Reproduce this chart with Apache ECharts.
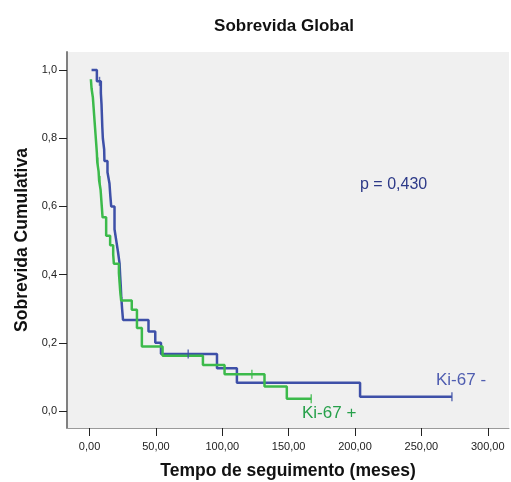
<!DOCTYPE html>
<html>
<head>
<meta charset="utf-8">
<script src="https://cdn.jsdelivr.net/npm/echarts@6/dist/echarts.min.js"></script>
<style>html,body{margin:0;padding:0;background:#fff;}#c{width:511px;height:482px;}</style>
</head>
<body>
<div id="c"></div>
<script>
// Ki-67 negative group (blue)
const blueTimes = [1.5, 5.5, 8.5, 9, 9.3, 9.6, 10, 11, 11.2, 13.5, 15, 15.6, 16.3, 18.8, 20.1, 21.4, 22.6, 23, 23.5, 23.9, 24.5, 25.2, 44.4, 49.5, 53.8, 96, 111, 203.8, 273];
const blueSurv  = [1.0, 0.967, 0.933, 0.9, 0.867, 0.833, 0.8, 0.767, 0.733, 0.7, 0.667, 0.633, 0.6, 0.533, 0.5, 0.467, 0.433, 0.4, 0.367, 0.333, 0.3, 0.267, 0.233, 0.2, 0.167, 0.125, 0.083, 0.042, 0.042];
const blueCensorTimes = [7.5, 74.3, 273];
const blueCensorSurv  = [0.967, 0.167, 0.042];

// Ki-67 positive group (green)
const greenTimes = [1, 1.5, 2.5, 3, 3.5, 4, 4.5, 5, 5.5, 5.8, 6.8, 7.2, 8.3, 8.8, 9.3, 9.8, 12.5, 15.5, 17.8, 18.3, 22.1, 22.6, 23.1, 23.8, 31.8, 35.7, 39.4, 55, 85.4, 101.7, 131.8, 148.6, 167];
const greenSurv  = [0.973, 0.946, 0.919, 0.892, 0.865, 0.838, 0.811, 0.784, 0.757, 0.730, 0.703, 0.676, 0.649, 0.622, 0.595, 0.568, 0.514, 0.486, 0.459, 0.432, 0.405, 0.378, 0.351, 0.324, 0.297, 0.243, 0.189, 0.162, 0.135, 0.108, 0.072, 0.036, 0.036];
const greenCensorTimes = [6.2, 7.8, 122.3, 167];
const greenCensorSurv  = [0.730, 0.676, 0.108, 0.036];

const xTicks = [0, 50, 100, 150, 200, 250, 300];
const yTicks = [0, 0.2, 0.4, 0.6, 0.8, 1.0];

const BLUE = '#3e50a8';
const GREEN = '#3cba4b';
const zip = (a, b) => a.map((v, i) => [v, b[i]]);

const chart = echarts.init(document.getElementById('c'), null, {renderer: 'canvas'});
const FONT = '"Liberation Sans", Arial, sans-serif';
chart.setOption({
  animation: false,
  backgroundColor: '#ffffff',
  textStyle: {fontFamily: FONT},
  title: {
    text: 'Sobrevida Global', left: 279, top: 13, textAlign: 'center',
    textStyle: {fontSize: 17, fontWeight: 'bold', color: '#111', fontFamily: FONT}
  },
  grid: {left: 67, top: 52, right: 2, bottom: 54, show: true, backgroundColor: '#f0f0f0', borderWidth: 0,
         outerBoundsMode: 'none', containLabel: false},
  xAxis: {
    type: 'value', min: -17, max: 316,
    name: 'Tempo de seguimento (meses)', nameLocation: 'middle', nameGap: 34,
    nameTextStyle: {fontSize: 17.5, fontWeight: 'bold', color: '#111', fontFamily: FONT},
    axisLine: {show: true, onZero: false, lineStyle: {color: '#9a9a9a', width: 1}},
    axisTick: {show: true, customValues: xTicks, length: 8, lineStyle: {color: '#222', width: 1}},
    axisLabel: {customValues: xTicks, margin: 13, fontSize: 11, color: '#222', fontFamily: FONT,
      formatter: v => v.toFixed(2).replace('.', ',')},
    splitLine: {show: false}
  },
  yAxis: {
    type: 'value', min: -0.05, max: 1.053,
    name: 'Sobrevida Cumulativa', nameLocation: 'middle', nameGap: 27, nameRotate: 90,
    nameTextStyle: {fontSize: 17.5, fontWeight: 'bold', color: '#111', fontFamily: FONT},
    axisLine: {show: true, onZero: false, lineStyle: {color: '#808080', width: 2}},
    axisTick: {show: true, customValues: yTicks, length: 8, lineStyle: {color: '#222', width: 1}},
    axisLabel: {customValues: yTicks, margin: 10, fontSize: 11, color: '#222', fontFamily: FONT,
      formatter: v => v.toFixed(1).replace('.', ',')},
    splitLine: {show: false}
  },
  graphic: [
    {type: 'text', left: 360, top: 177, style: {text: 'p = 0,430', fontSize: 16, fill: '#2d3a88', fontFamily: FONT}},
    {type: 'text', left: 436, top: 372, style: {text: 'Ki-67 -', fontSize: 17, fill: '#4f5db0', fontFamily: FONT}},
    {type: 'text', left: 302, top: 405, style: {text: 'Ki-67 +', fontSize: 17, fill: '#26a04a', fontFamily: FONT}}
  ],
  series: [
    {type: 'line', step: 'end', data: zip(greenTimes, greenSurv), showSymbol: false, symbol: 'none',
     lineStyle: {color: GREEN, width: 2.5}, z: 3},
    {type: 'line', step: 'end', data: zip(blueTimes, blueSurv), showSymbol: false, symbol: 'none',
     lineStyle: {color: BLUE, width: 2.5}, z: 2},
    {type: 'scatter', data: zip(greenCensorTimes, greenCensorSurv), symbol: 'rect', symbolSize: [1.5, 9],
     itemStyle: {color: GREEN}, z: 4},
    {type: 'scatter', data: zip(blueCensorTimes, blueCensorSurv), symbol: 'rect', symbolSize: [1.5, 9],
     itemStyle: {color: BLUE}, z: 4}
  ]
});
</script>
</body>
</html>
